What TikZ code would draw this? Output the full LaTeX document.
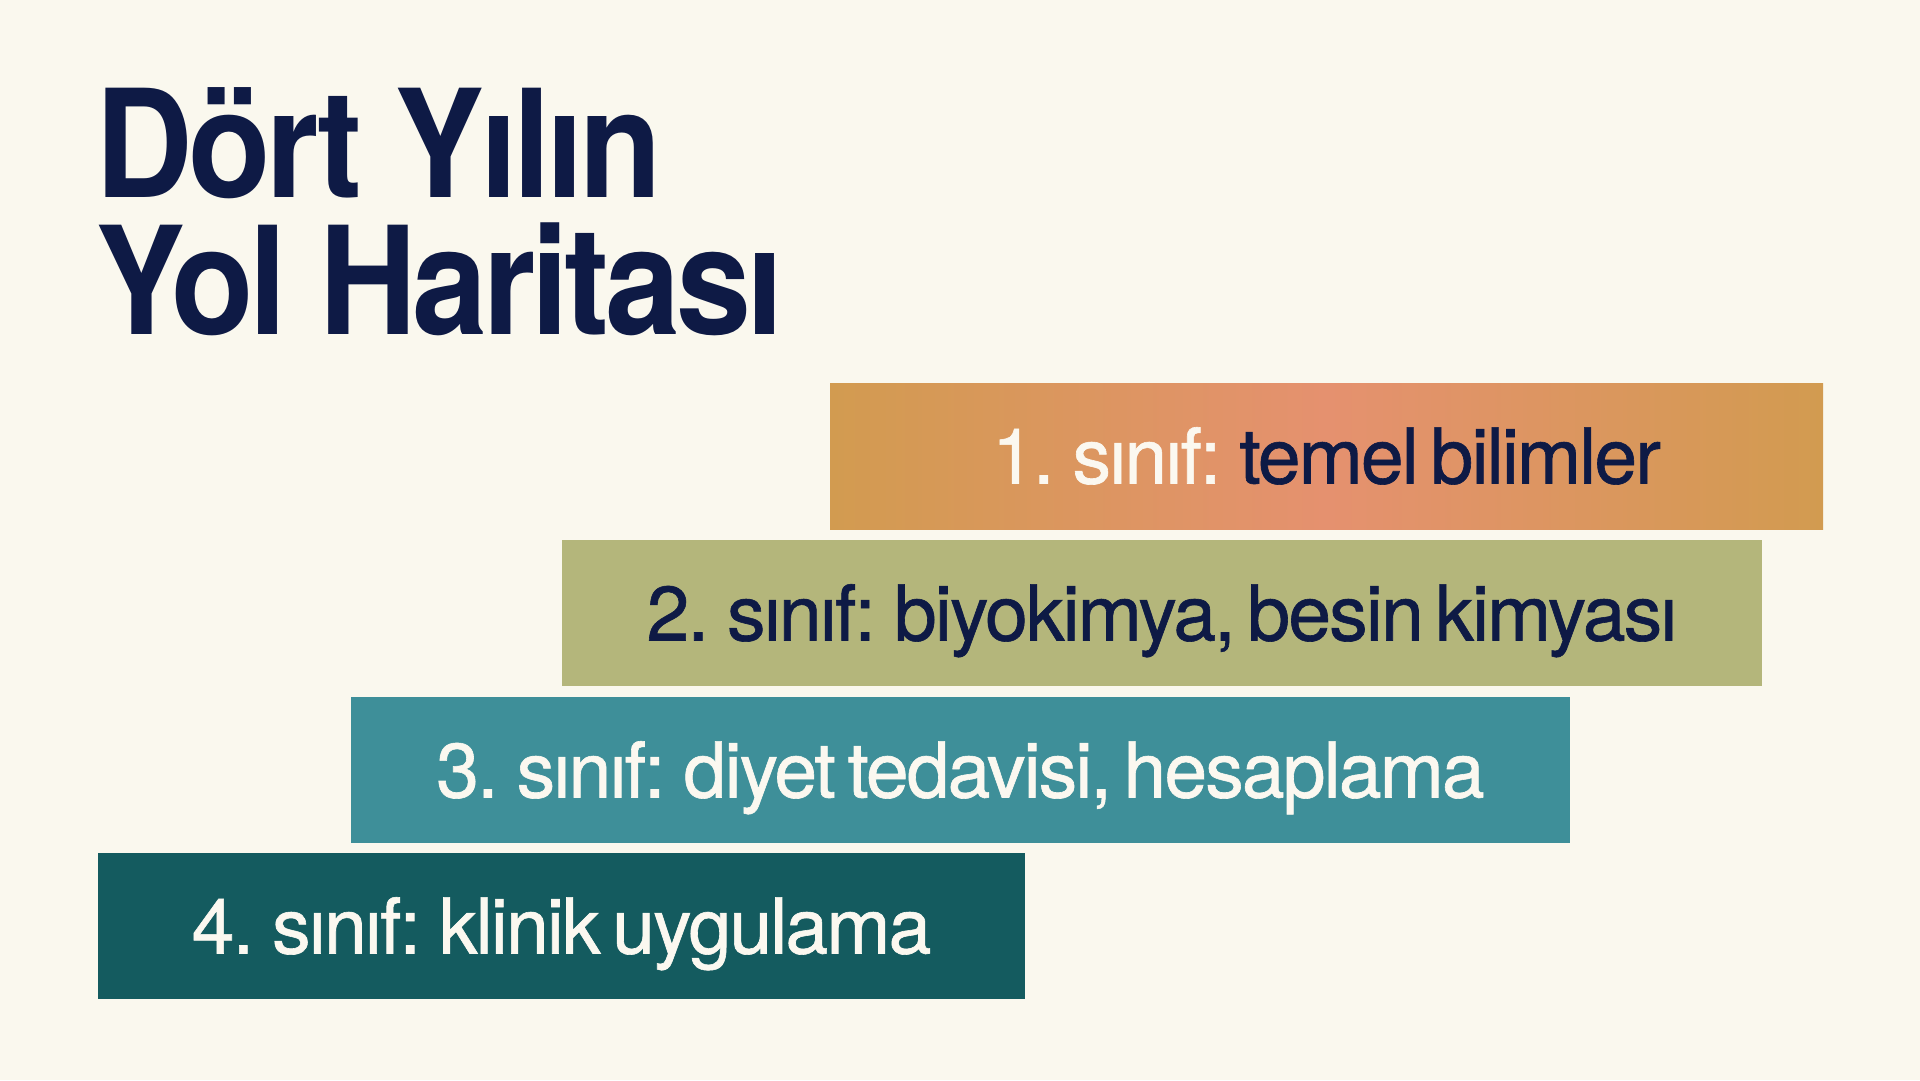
\documentclass[tikz,border=0pt]{standalone}
\usepackage{fontspec}
\setmainfont{TeX Gyre Heros}
\newfontfamily\titlefont[LetterSpace=-3,FakeStretch=0.9]{TeX Gyre Heros}
\newfontfamily\boxfont[LetterSpace=-2.5,WordSpace=0.6,FakeBold=0.8]{TeX Gyre Heros}
\definecolor{bgc}{HTML}{FAF8EE}
\definecolor{navy}{HTML}{0E1A45}
\definecolor{ochre}{HTML}{D29B50}
\definecolor{salmon}{HTML}{E5916F}
\definecolor{olive}{HTML}{B4B67B}
\definecolor{tealA}{HTML}{3E8F99}
\definecolor{tealB}{HTML}{145B5F}
\definecolor{cream}{HTML}{FBF8F0}
\tikzset{
  titletxt/.style={anchor=base west, inner sep=0pt, text=navy,
    font=\titlefont\bfseries\fontsize{150}{150}\selectfont},
  yearbox/.style={rectangle, inner sep=0pt, minimum height=146pt,
    text height=55pt, text depth=0pt,
    font=\boxfont\fontsize{77}{77}\selectfont}
}
\begin{document}
\begin{tikzpicture}[x=1pt,y=-1pt]
\useasboundingbox (0,0) rectangle (1920,1080);
\fill[bgc] (0,0) rectangle (1920,1080);
% title
\node[titletxt] (t1) at (95,197) {Dört Yılın};
\node[titletxt] (t2) at (95,334) {Yol Haritası};
% box 1 with gradient
\shade[left color=ochre, right color=ochre, middle color=salmon] (830,383) rectangle (1823,529);
\node[yearbox, minimum width=993pt] (y1) at (1326.5,456) {\textcolor{cream}{1. sınıf:} \textcolor{navy}{temel bilimler}};
% box 2
\node[yearbox, fill=olive, minimum width=1200pt, text=navy] (y2) at (1162,613) {2. sınıf: biyokimya, besin kimyası};
% box 3
\node[yearbox, fill=tealA, minimum width=1219pt, text=cream] (y3) at (960.5,770) {3. sınıf: diyet tedavisi, hesaplama};
% box 4
\node[yearbox, fill=tealB, minimum width=927pt, text=cream] (y4) at (561.5,926) {4. sınıf: klinik uygulama};
\end{tikzpicture}
\end{document}
